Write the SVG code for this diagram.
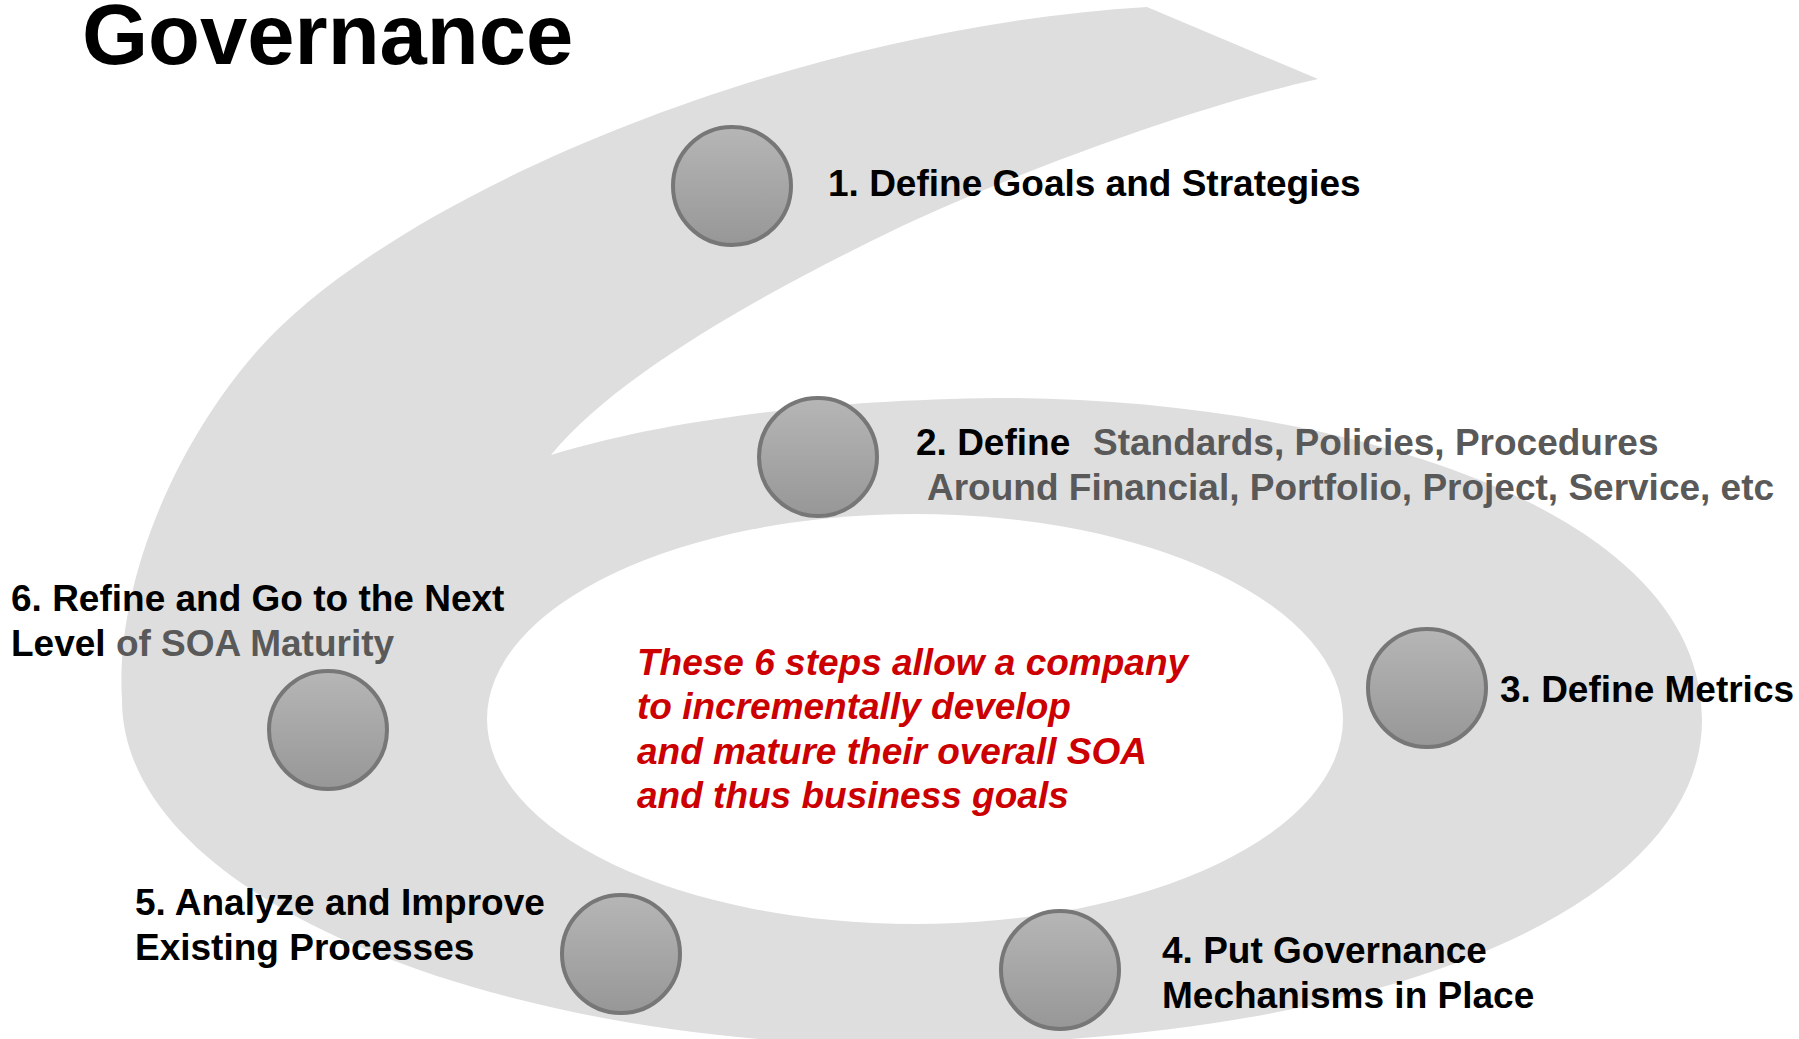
<svg xmlns="http://www.w3.org/2000/svg" width="1799" height="1039" viewBox="0 0 1799 1039">
  <defs>
    <linearGradient id="ballGrad" x1="0" y1="0" x2="0" y2="1">
      <stop offset="0" stop-color="#b6b6b6"/>
      <stop offset="1" stop-color="#979797"/>
    </linearGradient>
    <style>
      .ball { fill: url(#ballGrad); stroke: #777777; stroke-width: 4; }
      .lbl { font-family: "Liberation Sans", Arial, sans-serif; font-weight: bold; font-size: 37px; fill: #000000; }
      .gray { fill: #595959; }
      .note { font-family: "Liberation Sans", Arial, sans-serif; font-weight: bold; font-style: italic; font-size: 37px; fill: #cc0000; }
      .title { font-family: "Liberation Sans", Arial, sans-serif; font-weight: bold; font-size: 85px; fill: #000000; }
    </style>
  </defs>
  <rect width="1799" height="1039" fill="#ffffff"/>

  <g id="spiral">
    <path fill="#dedede" d="M 1147,7 L 1318,79
      C 1180,110 1000,180 900,227
      C 780,285 620,370 551,455
      C 650,425 800,400 1000,398
      C 1320,398 1702,500 1702,720
      C 1702,900 1400,1045 900,1045
      C 500,1045 122,900 122,700
      C 115,590 170,450 258,350
      C 395,195 790,28 1147,7 Z"/>
    <ellipse cx="915" cy="719" rx="428" ry="205" fill="#ffffff"/>
  </g>

  <text class="title" x="82" y="64">Governance</text>

  <g id="connectors"/>

  <g id="step1">
    <circle class="ball" cx="732" cy="186" r="59"/>
    <text class="lbl" x="828" y="196">1. Define Goals and Strategies</text>
  </g>
  <g id="step2">
    <circle class="ball" cx="818" cy="457" r="59"/>
    <text class="lbl" x="916" y="455">2. Define <tspan class="gray" x="1093">Standards, Policies, Procedures</tspan></text>
    <text class="lbl gray" x="927" y="500">Around Financial, Portfolio, Project, Service, etc</text>
  </g>
  <g id="step3">
    <circle class="ball" cx="1427" cy="688" r="59"/>
    <text class="lbl" x="1500" y="702">3. Define Metrics</text>
  </g>
  <g id="step4">
    <circle class="ball" cx="1060" cy="970" r="59"/>
    <text class="lbl" x="1162" y="963">4. Put Governance</text>
    <text class="lbl" x="1162" y="1008">Mechanisms in Place</text>
  </g>
  <g id="step5">
    <circle class="ball" cx="621" cy="954" r="59"/>
    <text class="lbl" x="135" y="915">5. Analyze and Improve</text>
    <text class="lbl" x="135" y="960">Existing Processes</text>
  </g>
  <g id="step6">
    <circle class="ball" cx="328" cy="730" r="59"/>
    <text class="lbl" x="11" y="611">6. Refine and Go to the Next</text>
    <text class="lbl" x="11" y="656">Level<tspan class="gray"> of SOA Maturity</tspan></text>
  </g>

  <g id="center-note">
    <text class="note" x="637" y="675">These 6 steps allow a company</text>
    <text class="note" x="637" y="719">to incrementally develop</text>
    <text class="note" x="637" y="764">and mature their overall SOA</text>
    <text class="note" x="637" y="808">and thus business goals</text>
  </g>
</svg>
